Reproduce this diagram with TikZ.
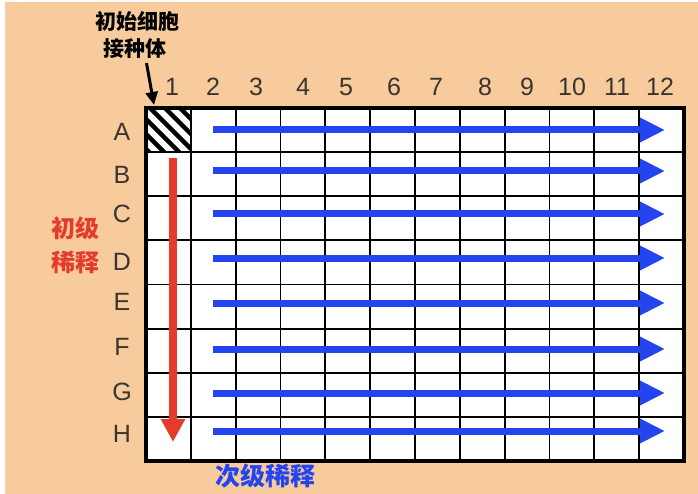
\documentclass[tikz,border=0pt]{standalone}
\usepackage{fontspec}
\setmainfont{Liberation Sans}
\newfontfamily\cjk{Noto Sans CJK SC}
\usetikzlibrary{arrows.meta}
\definecolor{bg}{HTML}{F7CB9B}
\definecolor{lbl}{HTML}{3A3530}
\definecolor{myblue}{HTML}{2444F0}
\definecolor{myred}{HTML}{E53B2C}
\tikzset{
  gridline/.style={line width=1.8pt, black},
  lab/.style={font=\fontsize{25}{25}\selectfont, text=lbl, inner sep=0pt},
  cjklab/.style={font=\cjk\bfseries\fontsize{21}{21}\selectfont, inner sep=0pt},
  bluearrow/.style={line width=7pt, myblue, -{Triangle[length=25pt,width=23pt]}},
  redarrow/.style={line width=8pt, myred, -{Triangle[length=23pt,width=23pt]}},
  blackarrow/.style={line width=3pt, black, -{Triangle[length=13pt,width=12pt]}},
}
\begin{document}
\begin{tikzpicture}[x=1pt,y=-1pt]
\useasboundingbox (0,0) rectangle (698,494);
\fill[white] (0,0) rectangle (698,494);
\fill[bg] (5,2) rectangle (698,494);
% plate
\fill[white] (146,108) rectangle (684,461);
% hatched well A1
\begin{scope}
\clip (146,108) rectangle (190.8,152.1);
\foreach \k in {-3,...,3} {
  \draw[line width=4.5pt] (146+\k*15,104) -- ++(52,52);
}
\end{scope}
% grid lines
\foreach \i in {1,...,11} {
  \draw[gridline] ({146+\i*44.83},108) -- ++(0,353);
}
\foreach \j in {1,...,7} {
  \draw[gridline] (146,{108+\j*44.125}) -- (684,{108+\j*44.125});
}
\draw[line width=3.2pt] (146,108) rectangle (684,461);
% column labels
\foreach \n/\x in {1/172,2/213,3/256,4/303,5/346,6/394,7/436,8/485,9/527,10/572,11/617,12/660} {
  \node[lab] (c\n) at (\x,87) {\n};
}
% row labels
\foreach \r/\y in {A/132,B/175,C/214,D/262,E/302,F/347,G/392,H/434} {
  \node[lab] (r\r) at (122,\y) {\r};
}
% blue arrows
\foreach \r/\y in {A/130,B/171,C/214,D/258,E/303,F/349,G/393,H/431} {
  \coordinate (b\r0) at (213,\y);
  \coordinate (b\r1) at (665,\y);
  \draw[bluearrow] (b\r0) -- (b\r1);
}
% red arrow
\coordinate (rs) at (173,158);
\coordinate (re) at (173,442);
\draw[redarrow] (rs) -- (re);
% black arrow
\coordinate (ks) at (146.5,63);
\coordinate (ke) at (154,105);
\draw[blackarrow] (ks) -- (ke);
% texts
\node[cjklab] (t1) at (137,21) {初始细胞};
\node[cjklab] (t2) at (135,49) {接种体};
\node[cjklab, text=myred, font=\cjk\bfseries\fontsize{24}{24}\selectfont] (p1) at (75,228) {初级};
\node[cjklab, text=myred, font=\cjk\bfseries\fontsize{24}{24}\selectfont] (p2) at (75,262) {稀释};
\node[cjklab, text=myblue, font=\cjk\bfseries\fontsize{25}{25}\selectfont] (s1) at (265,476) {次级稀释};
\end{tikzpicture}
\end{document}
